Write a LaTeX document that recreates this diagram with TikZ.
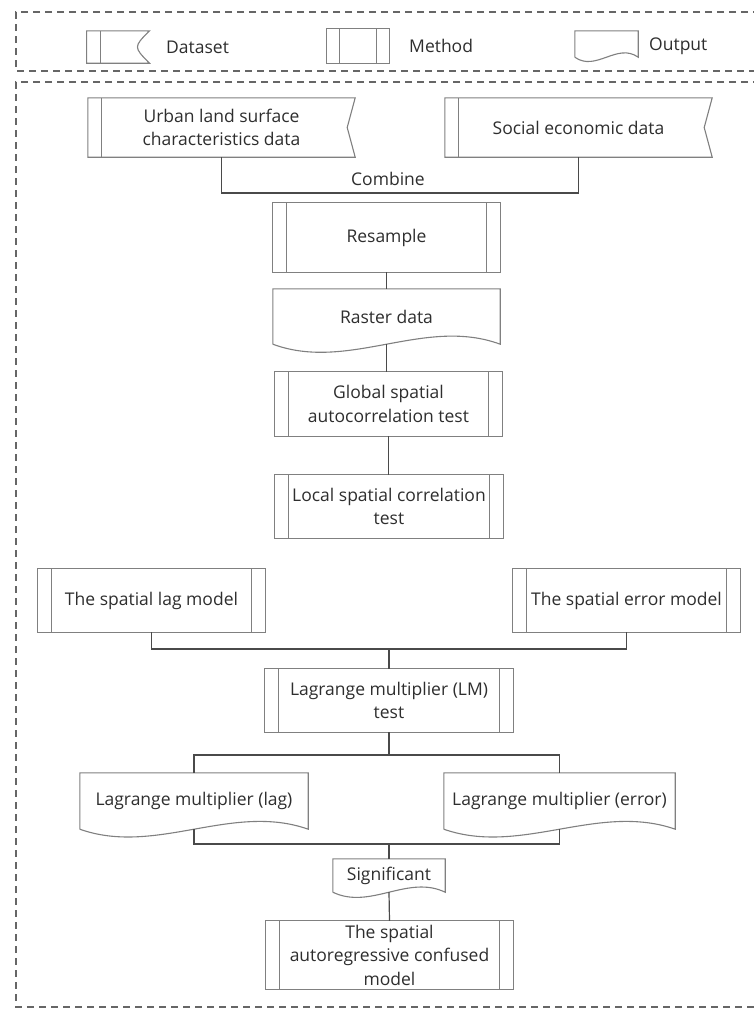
\documentclass[tikz,border=0pt]{standalone}
\usepackage{fontspec}
\setmainfont{Open Sans}
\usetikzlibrary{calc}
\definecolor{boxcol}{HTML}{808080}
\definecolor{linecol}{HTML}{4A4A4A}
\definecolor{txtcol}{HTML}{2E2E2E}
\definecolor{dashcol}{HTML}{666666}
\tikzset{
  txt/.style={font=\fontsize{17.5}{23.5}\selectfont, text=txtcol, align=center, inner sep=0pt},
  boxline/.style={draw=boxcol, line width=1.1pt},
  conn/.style={draw=linecol, line width=1.2pt},
  dashframe/.style={draw=dashcol, line width=1.1pt, dash pattern=on 7pt off 5pt},
  plainbox/.style={txt, rectangle},
}
\newcommand\methodshape[2]{%
  \draw[boxline] (#1.north west) rectangle (#1.south east);
  \draw[boxline] ([xshift=#2]#1.north west) -- ([xshift=#2]#1.south west)
    ([xshift=-#2]#1.north east) -- ([xshift=-#2]#1.south east);}
\newcommand\datashape[3]{%
  \draw[boxline] (#1.north west) -- (#1.north east) -- ([xshift=-#3]#1.east) -- (#1.south east) -- (#1.south west) -- cycle;
  \draw[boxline] ([xshift=#2]#1.north west) -- ([xshift=#2]#1.south west);}
\newcommand\outshape[2]{%
  \draw[boxline] (#1.south west) -- (#1.north west) -- (#1.north east) -- (#1.south east)
    .. controls ($(#1.south east)!0.3333!(#1.south west)+(0,-#2)$) and ($(#1.south east)!0.6667!(#1.south west)+(0,#2)$) .. (#1.south west);}
\begin{document}
\begin{tikzpicture}[x=1pt,y=-1pt]
\path[use as bounding box, clip] (0,0) rectangle (754,1012);
\fill[white] (0,0) rectangle (754,1012);
% frames
\draw[dashframe] (760,12) -- (16,12) -- (16,71) -- (760,71);
\draw[dashframe] (760,82) -- (16,82) -- (16,1007) -- (760,1007);
% legend
\node[plainbox, minimum width=62.5pt, minimum height=32pt] (legdata) at (118,47) {};
\draw[boxline] (legdata.north west) -- (legdata.north east) .. controls ([xshift=-16pt]legdata.east) .. (legdata.south east) -- (legdata.south west) -- cycle;
\draw[boxline] ([xshift=13.5pt]legdata.north west) -- ([xshift=13.5pt]legdata.south west);
\node[txt, anchor=west] (legdatatxt) at (166,47) {Dataset};
\node[plainbox, minimum width=62pt, minimum height=34pt] (legmeth) at (358,46) {};
\methodshape{legmeth}{13pt}
\node[txt, anchor=west] (legmethtxt) at (409,46) {Method};
\node[plainbox, minimum width=63pt, minimum height=26pt] (legout) at (606.5,44) {};
\outshape{legout}{15}
\node[txt, anchor=west] (legouttxt) at (649,46) {Output};
% main nodes
\node[plainbox, minimum width=267pt, minimum height=59pt] (urban) at (221.5,127.5) {Urban land surface\\characteristics data};
\datashape{urban}{14pt}{8pt}
\node[plainbox, minimum width=267pt, minimum height=59pt] (social) at (578.5,127.5) {Social economic data};
\datashape{social}{14pt}{8pt}
\node[txt] (combine) at (388,179) {Combine};
\node[plainbox, minimum width=227pt, minimum height=69pt] (resample) at (386.5,237.5) {Resample};
\methodshape{resample}{13.5pt}
\node[plainbox, minimum width=227pt, minimum height=55pt] (raster) at (386.5,316.5) {Raster data};
\outshape{raster}{28}
\node[plainbox, minimum width=227pt, minimum height=64pt] (global) at (388.5,404) {Global spatial\\autocorrelation test};
\methodshape{global}{13.5pt}
\node[plainbox, minimum width=228pt, minimum height=63pt] (local) at (389,506.5) {Local spatial correlation\\test};
\methodshape{local}{13.5pt}
\node[plainbox, minimum width=227pt, minimum height=63pt] (lagm) at (151.5,600.5) {The spatial lag model};
\methodshape{lagm}{13.5pt}
\node[plainbox, minimum width=227pt, minimum height=63pt] (errm) at (626.5,600.5) {The spatial error model};
\methodshape{errm}{13.5pt}
\node[plainbox, minimum width=248pt, minimum height=63pt] (lm) at (389,700.5) {Lagrange multiplier (LM)\\test};
\methodshape{lm}{13.5pt}
\node[plainbox, minimum width=228pt, minimum height=56pt] (lagout) at (194,801) {Lagrange multiplier (lag)};
\outshape{lagout}{27}
\node[plainbox, minimum width=231pt, minimum height=56pt] (errout) at (559.5,801) {Lagrange multiplier (error)};
\outshape{errout}{27}
\node[plainbox, minimum width=112pt, minimum height=33pt] (sig) at (389,875.5) {Significant};
\outshape{sig}{18}
\node[plainbox, minimum width=247pt, minimum height=68pt] (final) at (389.5,955) {The spatial\\autoregressive confused\\model};
\methodshape{final}{13.5pt}
% connectors
\coordinate (comb) at (388,193);
\draw[conn] (urban.south) |- (comb) -| (social.south);
\draw[conn] (resample.south) -- (raster.north);
\draw[conn] (raster.south) -- (raster.south |- global.north);
\draw[conn] (global.south) -- (global.south |- local.north);
\coordinate (mj) at (389,649);
\draw[conn] (lagm.south) |- (mj) -| (errm.south);
\draw[conn] (mj) -- (lm.north);
\coordinate (sp) at (389,755);
\draw[conn] (lm.south) -- (sp);
\draw[conn] (lagout.north) |- (sp) -| (errout.north);
\coordinate (jn) at (389,844);
\draw[conn] (lagout.south) |- (jn) -| (errout.south);
\draw[conn] (jn) -- (sig.north);
\draw[conn] (sig.south) -- (final.north);
\end{tikzpicture}
\end{document}
